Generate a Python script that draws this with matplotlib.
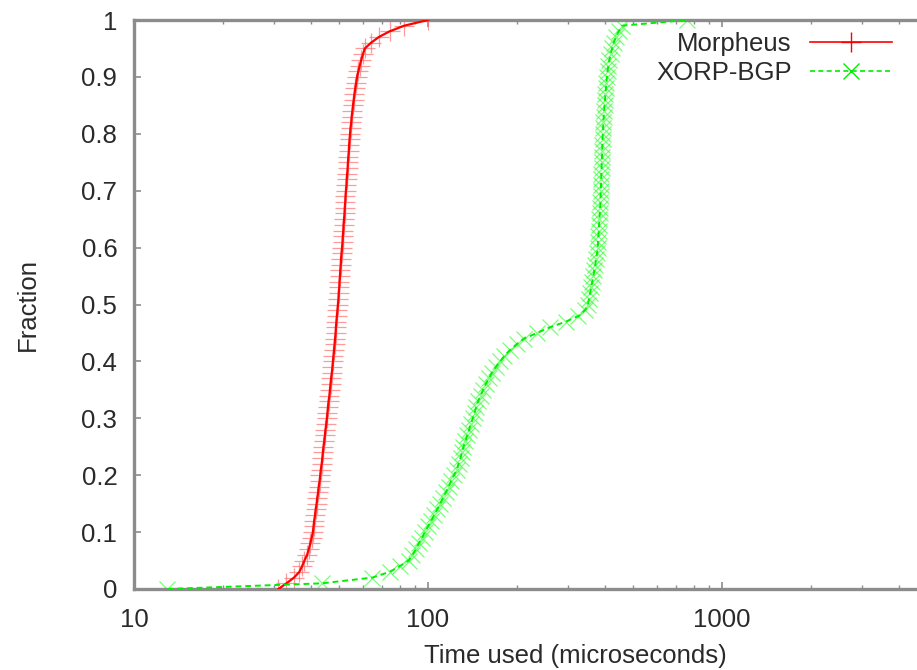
import matplotlib
matplotlib.use("Agg")
import matplotlib.pyplot as plt
from matplotlib.ticker import FixedLocator, LogLocator, NullFormatter

# CDF levels (percentiles 0..100)
fraction = [0.00, 0.01, 0.02, 0.03, 0.04, 0.05, 0.06, 0.07, 0.08, 0.09,
            0.10, 0.11, 0.12, 0.13, 0.14, 0.15, 0.16, 0.17, 0.18, 0.19,
            0.20, 0.21, 0.22, 0.23, 0.24, 0.25, 0.26, 0.27, 0.28, 0.29,
            0.30, 0.31, 0.32, 0.33, 0.34, 0.35, 0.36, 0.37, 0.38, 0.39,
            0.40, 0.41, 0.42, 0.43, 0.44, 0.45, 0.46, 0.47, 0.48, 0.49,
            0.50, 0.51, 0.52, 0.53, 0.54, 0.55, 0.56, 0.57, 0.58, 0.59,
            0.60, 0.61, 0.62, 0.63, 0.64, 0.65, 0.66, 0.67, 0.68, 0.69,
            0.70, 0.71, 0.72, 0.73, 0.74, 0.75, 0.76, 0.77, 0.78, 0.79,
            0.80, 0.81, 0.82, 0.83, 0.84, 0.85, 0.86, 0.87, 0.88, 0.89,
            0.90, 0.91, 0.92, 0.93, 0.94, 0.95, 0.96, 0.97, 0.98, 0.99,
            1.00]

# time used (microseconds) at each fraction
morpheus = [31, 33, 35, 36.5, 37.3, 38, 38.8, 39.3, 39.8, 40.2,
            40.6, 40.8, 41.0, 41.3, 41.5, 41.8, 42.0, 42.3, 42.5, 42.8,
            43.0, 43.2, 43.5, 43.7, 43.9, 44.1, 44.4, 44.6, 44.8, 45.1,
            45.3, 45.5, 45.7, 45.9, 46.2, 46.4, 46.6, 46.8, 47.1, 47.3,
            47.5, 47.7, 47.9, 48.1, 48.3, 48.5, 48.6, 48.8, 49.0, 49.2,
            49.4, 49.6, 49.7, 49.9, 50.0, 50.2, 50.3, 50.5, 50.6, 50.8,
            51.0, 51.2, 51.3, 51.5, 51.6, 51.8, 52.0, 52.1, 52.3, 52.4,
            52.6, 52.8, 52.9, 53.1, 53.3, 53.4, 53.6, 53.8, 53.9, 54.1,
            54.3, 54.5, 54.8, 55.0, 55.3, 55.6, 55.9, 56.2, 56.6, 57.0,
            57.4, 58.0, 58.6, 59.3, 60.1, 61.0, 64, 68, 74, 83,
            100]

xorp_bgp = [13, 43.6, 64.6, 74, 80, 86, 88.5, 91, 93, 95.5,
            97.5, 100, 102.5, 105, 107.5, 110, 112.5, 115, 117.5, 120,
            122.5, 125.5, 127, 129, 130.5, 132, 134, 136, 138, 140,
            142, 144, 146, 148, 151, 154, 157, 161, 165, 170,
            176, 182, 190, 200, 212, 235, 260, 295, 325, 342,
            350, 353, 356, 359, 362, 365, 368, 371, 373, 376,
            378, 379, 380, 381, 382, 383, 384, 385, 386, 386.5,
            387, 387.6, 388.2, 388.8, 389.4, 390, 390.6, 391.2, 391.8, 392.4,
            393, 394, 395, 396, 397, 398.5, 400, 401.5, 403, 404.5,
            406, 408, 411, 414, 418, 423, 428, 436, 445, 457,
            760]

y_ticks = [0, 0.1, 0.2, 0.3, 0.4, 0.5, 0.6, 0.7, 0.8, 0.9, 1]
y_tick_labels = ["0", "0.1", "0.2", "0.3", "0.4", "0.5", "0.6", "0.7", "0.8", "0.9", "1"]
x_ticks = [10, 100, 1000]
x_tick_labels = ["10", "100", "1000"]

plt.rcParams["font.family"] = ["Liberation Sans", "DejaVu Sans"]
plt.rcParams["font.size"] = 18.5
text_col = "#2a2a2a"
axis_col = "#8c8c8c"

fig = plt.figure(figsize=(9.17, 6.70), dpi=100)
# plot area runs past the right edge of the picture (cropped like the original)
ax = fig.add_axes([134 / 917, 1 - 589 / 670, 882 / 917, 569 / 670])

red = "#ff0000"
green = "#00ee00"

ax.plot(morpheus, fraction, color=red, lw=1.6, zorder=3)
ax.plot(morpheus, fraction, ls="none", marker="+", ms=14, mew=0.9,
        color="#ff7070", alpha=0.7, zorder=2)
ax.plot(xorp_bgp, fraction, color=green, lw=1.4, ls=(0, (3, 2)), zorder=3)
ax.plot(xorp_bgp, fraction, ls="none", marker="x", ms=11, mew=0.9,
        color="#40ff40", alpha=0.7, zorder=2)

# legend entries
ax.plot([], [], color=red, lw=1.2, marker="+", ms=14, mew=1.0, label="Morpheus")
ax.plot([], [], color=green, lw=1.2, ls=(0, (3, 2)), marker="x", ms=12, mew=1.0,
        label="XORP-BGP")
handles, labels = ax.get_legend_handles_labels()
leg = fig.legend(handles[-2:], labels[-2:], loc="upper right",
                 bbox_to_anchor=(892 / 917, 1 - 32 / 670), frameon=False,
                 markerfirst=False, handlelength=3.2, handletextpad=0.7,
                 labelspacing=0.2, borderpad=0, borderaxespad=0, fontsize=18.5)
for t in leg.get_texts():
    t.set_color(text_col)

ax.set_xscale("log")
ax.set_xlim(10, 10000)
ax.set_ylim(0, 1)
ax.xaxis.set_major_locator(FixedLocator(x_ticks))
ax.set_xticklabels(x_tick_labels)
ax.xaxis.set_minor_locator(LogLocator(base=10, subs=[2, 3, 4, 5, 6, 7, 8, 9]))
ax.xaxis.set_minor_formatter(NullFormatter())
ax.set_yticks(y_ticks)
ax.set_yticklabels(y_tick_labels)

ax.tick_params(axis="both", which="both", direction="in", colors=axis_col,
               labelcolor=text_col, top=True, right=True)
ax.tick_params(axis="both", which="major", length=5, width=1.2, pad=12)
ax.tick_params(axis="x", which="minor", length=3, width=1.0)
ax.tick_params(axis="x", which="major", pad=14)

for side in ax.spines.values():
    side.set_color(axis_col)
    side.set_linewidth(2.4)

ax.set_xlabel("Time used (microseconds)", color=text_col, labelpad=8)
ax.set_ylabel("Fraction", color=text_col, labelpad=30)

fig.savefig("out.png", dpi=100)
